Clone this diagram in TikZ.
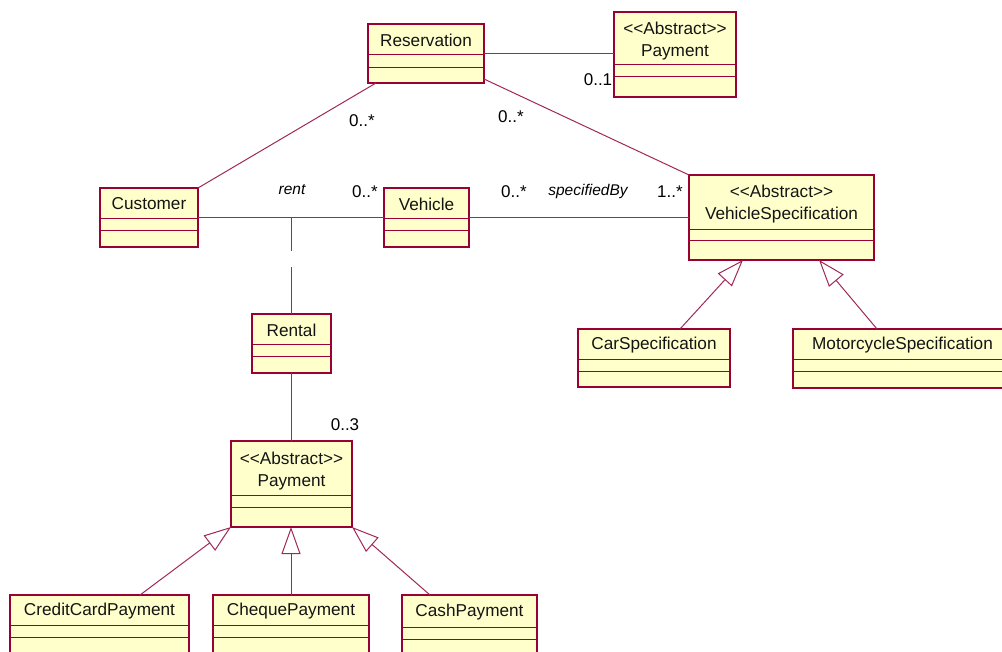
\documentclass[tikz,border=0pt]{standalone}
\usepackage{fontspec}
\setmainfont{Liberation Sans}
\usetikzlibrary{arrows.meta,calc}

\definecolor{umlborder}{HTML}{990033}
\definecolor{umlfill}{HTML}{FFFFCC}
\definecolor{umlline}{HTML}{A02858}

% stereotype brackets, kept as plain angle brackets (no guillemet ligature)
\newcommand\stereo[1]{<\kern0pt<#1>\kern0pt>}

\tikzset{
  classbox/.style={draw=umlborder, fill=umlfill, line width=1.3pt, inner sep=0pt, outer sep=0pt, rectangle},
  compart/.style={draw=umlborder, line width=0.9pt},
  classname/.style={font=\fontsize{17.2}{22}\selectfont, align=center, inner sep=0pt, text=black!92},
  assoc/.style={draw=umlline, line width=1pt},
  inherit/.style={assoc, -{Triangle[open, length=27pt, width=19pt, fill=white]}},
  mult/.style={font=\fontsize{17}{20}\selectfont, inner sep=0pt},
  rolename/.style={font=\fontsize{15.5}{20}\selectfont\itshape, inner sep=0pt},
}

% class box: name, x1, y1, x2, y2, first separator y, second separator y, label, label offset
\newcommand\umlclass[9]{%
  \pgfmathsetmacro\ucw{#4-#2}%
  \pgfmathsetmacro\uch{#5-#3}%
  \pgfmathsetmacro\ucx{(#2+#4)/2}%
  \pgfmathsetmacro\ucy{(#3+#6)/2+#9}%
  \node[classbox, anchor=north west, minimum width=\ucw pt, minimum height=\uch pt] (#1) at (#2,#3) {};
  \draw[compart] (#1.west |- {(0,#6)}) -- (#1.east |- {(0,#6)})
                 (#1.west |- {(0,#7)}) -- (#1.east |- {(0,#7)});
  \node[classname] (#1-name) at (\ucx,\ucy) {#8};
}

\begin{document}
\begin{tikzpicture}[x=1pt, y=-1pt]
  \clip (0,0) rectangle (1002,652);

  % classes
  \umlclass{res}{368}{24}{484}{83}{54}{67}{Reservation}{1}
  \umlclass{payA}{614}{12}{736}{97}{64}{76}{\stereo{Abstract}\\Payment}{3.5}
  \umlclass{cust}{100}{188}{198}{247}{218}{230}{Customer}{1}
  \umlclass{veh}{384}{188}{469}{247}{218}{230}{Vehicle}{1}
  \umlclass{vspec}{689}{175}{874}{260}{229}{240}{\stereo{Abstract}\\VehicleSpecification}{2.5}
  \umlclass{car}{578}{329}{730}{387}{359}{371}{CarSpecification}{1.5}
  \umlclass{moto}{793}{329}{1012}{388}{359}{371}{MotorcycleSpecification}{1.5}
  \umlclass{rental}{252}{314}{331}{373}{344}{356}{Rental}{1}
  \umlclass{payB}{231}{441}{352}{527}{495}{507}{\stereo{Abstract}\\Payment}{3.5}
  \umlclass{cc}{10}{595}{189}{670}{625}{637}{CreditCardPayment}{1.5}
  \umlclass{cheque}{213}{595}{369}{670}{625}{637}{ChequePayment}{1.5}
  \umlclass{cash}{402}{595}{537}{670}{627}{639}{CashPayment}{1.5}

  % associations
  \draw[assoc] (res.east) -- (res.east -| payA.west);
  \draw[assoc] ([xshift=8pt]res.south west) -- (cust.north east);
  \draw[assoc] ([yshift=4pt]res.south east) -- (vspec.north west);
  \draw[assoc] (cust.east) -- (veh.west);
  \draw[assoc] (veh.east) -- (veh.east -| vspec.west);
  \coordinate (rentjoin) at (rental.north |- cust.east);
  \draw[assoc] (rentjoin) -- ++(0,34);
  \draw[assoc] (rental.north) -- ++(0,-47);
  \draw[assoc] (rental.south) -- (payB.north);

  % generalisations
  \draw[inherit] ([xshift=130pt]cc.north west) -- (payB.south west);
  \draw[inherit] (cheque.north) -- (cheque.north |- payB.south);
  \draw[inherit] ([xshift=28pt]cash.north west) -- (payB.south east);
  \draw[inherit] ([xshift=102pt]car.north west) -- ([xshift=54pt]vspec.south west);
  \draw[inherit] ([xshift=84pt]moto.north west) -- ([xshift=130pt]vspec.south west);

  % multiplicities and role names
  \node[mult] (m1) at (598,80) {0..1};
  \node[mult] (m2) at (362,121) {0..*};
  \node[mult] (m3) at (511,117) {0..*};
  \node[rolename] (r1) at (292,190) {rent};
  \node[mult] (m4) at (365,192) {0..*};
  \node[mult] (m5) at (514,192) {0..*};
  \node[rolename] (r2) at (588,191) {specifiedBy};
  \node[mult] (m6) at (670,192) {1..*};
  \node[mult] (m7) at (345,425) {0..3};
\end{tikzpicture}
\end{document}
